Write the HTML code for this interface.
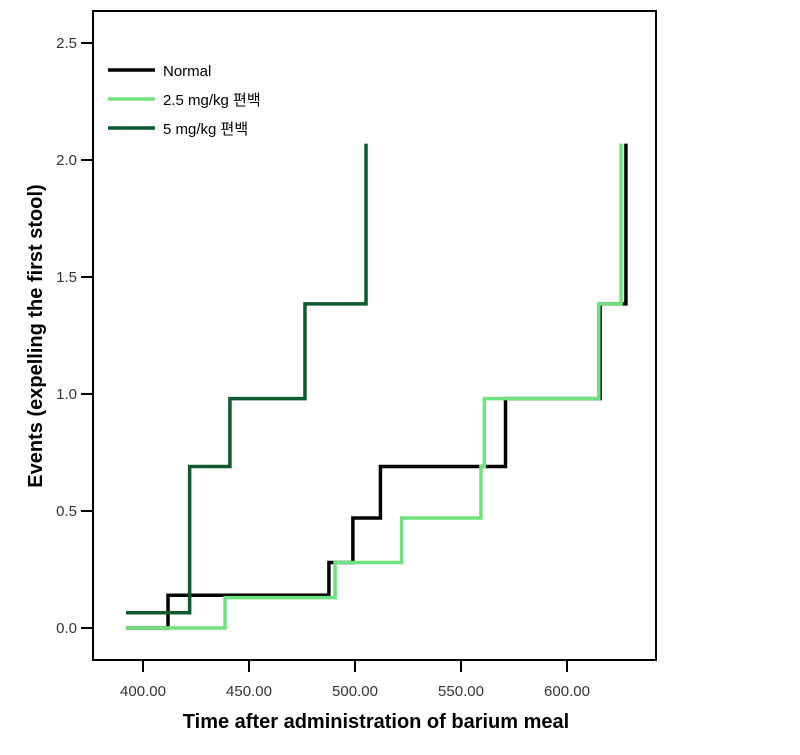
<!DOCTYPE html>
<html><head><meta charset="utf-8"><style>
html,body{margin:0;padding:0;background:#fff}
svg text{font-family:"Liberation Sans","Noto Sans CJK KR",sans-serif}
</style></head><body>
<svg width="800" height="750" viewBox="0 0 800 750" xmlns="http://www.w3.org/2000/svg">
<rect x="93" y="11" width="563" height="649" fill="#fff" stroke="#000" stroke-width="2"/>
<g id="axes"></g>
<g id="series"></g>
<g>
 <line x1="108" y1="70" x2="155" y2="70" stroke="#000" stroke-width="3.5"/>
 <text x="163" y="76" font-size="15">Normal</text>
 <line x1="108" y1="99" x2="155" y2="99" stroke="#6ee27f" stroke-width="3.5"/>
 <text x="163" y="105" font-size="15">2.5 mg/kg  편백</text>
 <line x1="108" y1="128" x2="155" y2="128" stroke="#0e5a2e" stroke-width="3.5"/>
 <text x="163" y="134" font-size="15">5 mg/kg 편백</text>
</g>
<text x="376" y="728" font-size="20" font-weight="bold" text-anchor="middle">Time after administration of barium meal</text>
<text transform="translate(42,336) rotate(-90)" font-size="20" font-weight="bold" text-anchor="middle">Events (expelling the first stool)</text>
</svg>
<script>
const xTicks=[400,450,500,550,600];
const yTicks=[0,0.5,1.0,1.5,2.0,2.5];
const normalX=[392,411.8,487.7,499,512,571,615.6,627.8];
const normalY=[0,0.14,0.28,0.47,0.69,0.98,1.385,2.07];
const mid25X=[392,438.7,490.6,522,559.4,561,615,625.5];
const mid25Y=[0,0.13,0.28,0.47,0.69,0.98,1.385,2.07];
const high5X=[392,422,441,476.4,505.2];
const high5Y=[0.065,0.69,0.98,1.385,2.07];
const sx=v=>143+(v-400)*2.12;
const sy=v=>628-v*234;
const NS="http://www.w3.org/2000/svg";
const axes=document.getElementById('axes');
function mk(t,a){const e=document.createElementNS(NS,t);for(const k in a)e.setAttribute(k,a[k]);return e;}
xTicks.forEach(v=>{
 const l=mk('line',{x1:sx(v),x2:sx(v),y1:660,y2:672,stroke:'#000','stroke-width':2});
 
 
 axes.appendChild(l);
 const t=mk('text',{x:sx(v),y:696,'font-size':15,'text-anchor':'middle',fill:'#333'});
 t.textContent=v.toFixed(2);
 
 
 axes.appendChild(t);
});
yTicks.forEach(v=>{
 const l=mk('line',{x1:81,x2:93,y1:sy(v),y2:sy(v),stroke:'#000','stroke-width':2});
 
 
 axes.appendChild(l);
 const t=mk('text',{x:77,y:sy(v)+5,'font-size':15,'text-anchor':'end',fill:'#333'});
 t.textContent=v.toFixed(1);
 
 
 axes.appendChild(t);
});
const ser=document.getElementById('series');
function step(xs,ys,color,name){
 let d='M'+sx(xs[0])+','+sy(ys[0]);
 for(let i=1;i<xs.length;i++){d+=' H'+sx(xs[i])+' V'+sy(ys[i]);}
 const p=mk('path',{d:d,fill:'none',stroke:color,'stroke-width':3.5});
 
 
 ser.appendChild(p);
}
step(normalX,normalY,'#000','normal-series');
step(mid25X,mid25Y,'#6ee27f','dose-2-5-series');
step(high5X,high5Y,'#0e5a2e','dose-5-series');
</script>
</body></html>
